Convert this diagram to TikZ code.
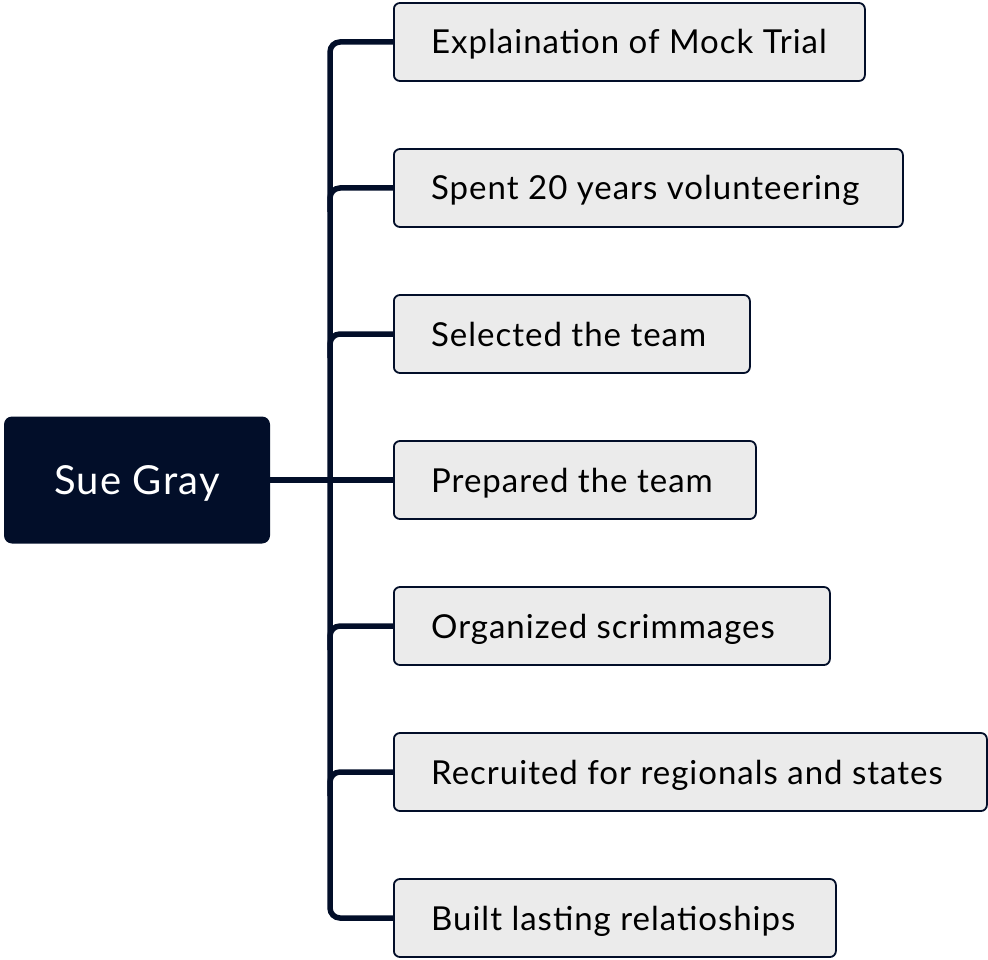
\documentclass[tikz,border=0pt]{standalone}
\usepackage{fontspec}
\setmainfont{Lato}[LetterSpace=3]
\definecolor{navy}{HTML}{020E29}
\definecolor{boxfill}{HTML}{EBEBEB}
\begin{document}
\begin{tikzpicture}[x=1pt,y=1pt,
  rootbox/.style={draw=none, fill=navy, rounded corners=8pt, minimum width=266pt, minimum height=127pt, inner sep=0pt},
  roottext/.style={anchor=base, inner sep=0pt, text=white, font=\fontsize{40}{48}\selectfont},
  leaf/.style={draw=navy, line width=1.8pt, fill=boxfill, rounded corners=6pt, minimum height=78pt, anchor=west, inner sep=0pt},
  leaftext/.style={anchor=base west, inner sep=0pt, text=black, font=\fontsize{33}{40}\selectfont},
  conn/.style={draw=navy, line width=5.5pt, rounded corners=10pt}
]
\useasboundingbox (0,0) rectangle (988,-960);
\node[rootbox] (root) at (137,-480) {};
\node[roottext] (rt) at (137,-494) {Sue Gray};
\foreach \n/\y/\w/\t in {
  1/42/471/{Explaination of Mock Trial},
  2/188/509/{Spent 20 years volunteering},
  3/334/356/{Selected the team},
  4/480/362/{Prepared the team},
  5/626/436/{Organized scrimmages},
  6/772/593/{Recruited for regionals and states},
  7/918/442/{Built lasting relatioships}}{
  \node[leaf, minimum width=\w pt] (b\n) at (393,-\y) {};
  \node[leaftext] (t\n) at (431,-\y-12) {\t};
}
\draw[conn] (b1.west) -| ([xshift=-63pt]b7.west) -- (b7.west);
\foreach \n in {2,3,5,6}{
  \draw[conn] (b\n.west) -| ([xshift=-63pt,yshift=-24pt]b\n.west);
}
\draw[conn, rounded corners=0pt] (root.east) -- (b4.west);
\end{tikzpicture}
\end{document}
